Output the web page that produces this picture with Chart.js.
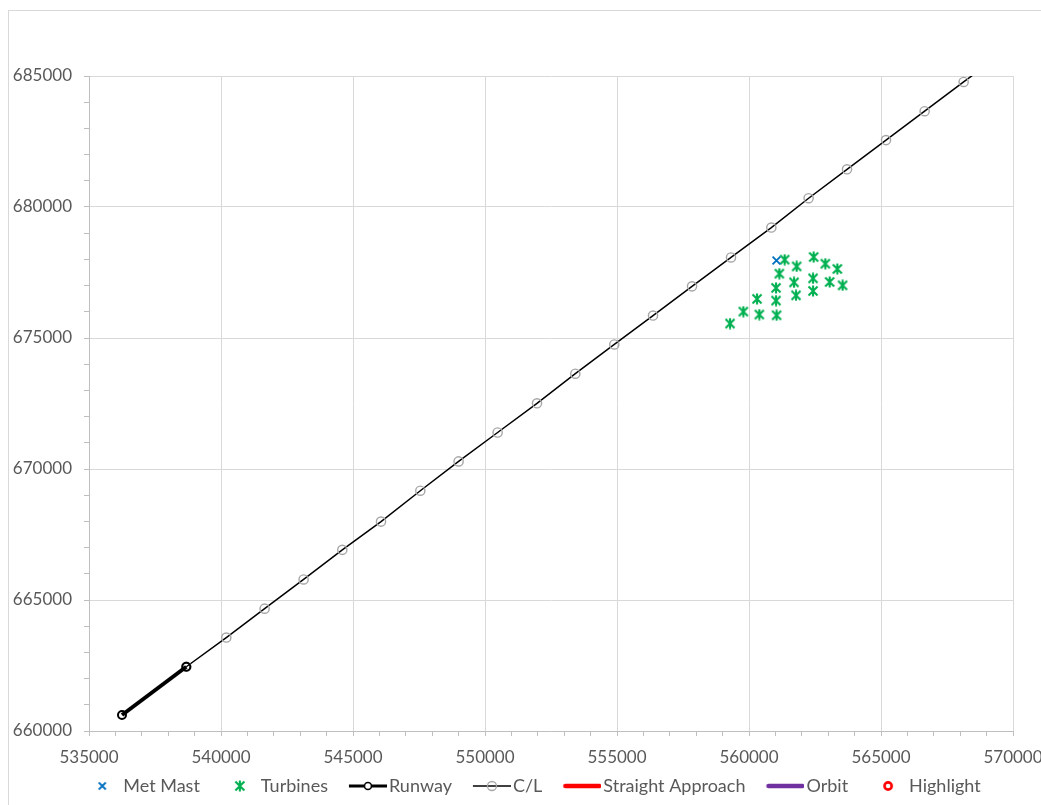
<!DOCTYPE html>
<html><head><meta charset="utf-8">
<script src="https://cdn.jsdelivr.net/npm/chart.js@4.4.1/dist/chart.umd.min.js"></script>
<style>
html,body{margin:0;padding:0;background:#fff;overflow:hidden;width:1041px;height:805px}
#frame{position:absolute;left:8px;top:10px;width:1100px;height:900px;border-top:1px solid #d9d9d9;border-left:1px solid #d9d9d9;box-sizing:border-box}
#c{position:absolute;left:0;top:0}
</style></head><body>
<div id="frame"></div>
<canvas id="c" width="1054" height="805"></canvas>
<script>
// ---- data (easting / northing) ----
const clX = [538686, 540201, 541652, 543129, 544595, 546061, 547550, 549000, 550478, 551970, 553421, 554898, 556364, 557842, 559319, 560846, 562258, 563713, 565190, 566653, 568130, 569600];
const clY = [662452, 663566, 664670, 665785, 666915, 667992, 669171, 670290, 671393, 672508, 673638, 674753, 675857, 676971, 678075, 679216, 680335, 681439, 682553, 683657, 684772, 685880];
const runwayX = [536250, 538686];
const runwayY = [660610, 662452];
const mastX = [561040];
const mastY = [677960];
const turbX = [561350, 561804, 562448, 562891, 563346, 561149, 561705, 562425, 563054, 563546, 561024, 561781, 562425, 560304, 561024, 559785, 560391, 561046, 559281];
const turbY = [677990, 677732, 678090, 677835, 677634, 677455, 677124, 677276, 677139, 677010, 676911, 676629, 676796, 676492, 676427, 676009, 675895, 675868, 675552];
const approachX = [], approachY = [];
const orbitX = [], orbitY = [];
const highlightX = [], highlightY = [];
const seriesNames = ['Met Mast', 'Turbines', 'Runway', 'C/L', 'Straight Approach', 'Orbit', 'Highlight'];
const xMajorTicks = [535000, 540000, 545000, 550000, 555000, 560000, 565000, 570000];
const yMajorTicks = [660000, 665000, 670000, 675000, 680000, 685000];

const pts = (xs, ys) => xs.map((x, i) => ({x, y: ys[i]}));

// ---- marker / legend icons ----
function starMarker(){
  const c = document.createElement('canvas'); c.width = 12; c.height = 12;
  const g = c.getContext('2d');
  g.strokeStyle = '#00b050'; g.lineWidth = 2.1;
  g.beginPath();
  g.moveTo(1.5,1.5); g.lineTo(10.5,10.5);
  g.moveTo(10.5,1.5); g.lineTo(1.5,10.5);
  g.moveTo(6,0.5); g.lineTo(6,11.5);
  g.stroke();
  return c;
}
function icon(draw){
  const c = document.createElement('canvas'); c.width = 58; c.height = 20;
  const g = c.getContext('2d');
  draw(g, 39, 10);
  return c;
}
const turbStar = starMarker();
const icons = [
  icon((g,cx,cy)=>{g.strokeStyle='#0070c0';g.lineWidth=1.8;g.beginPath();g.moveTo(cx-3.5,cy-3.5);g.lineTo(cx+3.5,cy+3.5);g.moveTo(cx+3.5,cy-3.5);g.lineTo(cx-3.5,cy+3.5);g.stroke();}),
  icon((g,cx,cy)=>{g.drawImage(turbStar, cx-6, cy-6);}),
  icon((g,cx,cy)=>{g.strokeStyle='#000';g.lineWidth=3;g.beginPath();g.moveTo(cx-19,cy);g.lineTo(cx+19,cy);g.stroke();
                   g.fillStyle='#fff';g.lineWidth=1.6;g.beginPath();g.arc(cx,cy,3.5,0,Math.PI*2);g.fill();g.stroke();}),
  icon((g,cx,cy)=>{g.strokeStyle='#000';g.lineWidth=1.5;g.beginPath();g.moveTo(cx-19,cy);g.lineTo(cx+19,cy);g.stroke();
                   g.strokeStyle='#a6a6a6';g.lineWidth=1.3;g.beginPath();g.arc(cx,cy,4.5,0,Math.PI*2);g.stroke();}),
  icon((g,cx,cy)=>{g.strokeStyle='#ff0000';g.lineWidth=4.5;g.lineCap='round';g.beginPath();g.moveTo(cx-17,cy);g.lineTo(cx+17,cy);g.stroke();}),
  icon((g,cx,cy)=>{g.strokeStyle='#7030a0';g.lineWidth=4.5;g.lineCap='round';g.beginPath();g.moveTo(cx-17,cy);g.lineTo(cx+17,cy);g.stroke();}),
  icon((g,cx,cy)=>{g.strokeStyle='#ff0000';g.lineWidth=2.6;g.beginPath();g.arc(cx,cy,3.6,0,Math.PI*2);g.stroke();})
];

const tickFont = {family: 'Lato', size: 17};
const legendFont = {family: 'Lato', size: 18};
const textColor = '#595959';

function axis(min, max, majors, isX){
  return {
    type: 'linear', min, max,
    ticks: {
      stepSize: 1000, autoSkip: false, maxRotation: 0, minRotation: 0,
      color: textColor, font: tickFont, padding: isX ? 11 : 12,
      callback: v => majors.includes(v) ? String(v) : ''
    },
    grid: {
      color: ctx => (ctx.tick && majors.includes(ctx.tick.value)) ? '#d9d9d9' : 'rgba(0,0,0,0)',
      lineWidth: 1, tickColor: '#bfbfbf', tickLength: 5, drawTicks: true
    },
    border: {color: '#bfbfbf', width: 1},
    afterFit: s => { if (isX) s.height = 38; else s.width = 79; }
  };
}

// shift the legend row so it sits where the reference legend is
const legendShift = {
  id: 'legendShift',
  afterLayout(chart){ if (chart.legend) { chart.legend.left += 28; } }
};

function draw(){
  new Chart(document.getElementById('c'), {
    type: 'scatter',
    data: {datasets: [
      {label: seriesNames[0], data: pts(mastX, mastY), pointStyle: 'crossRot', pointRadius: 5.5, borderColor: '#0070c0', backgroundColor: '#0070c0', borderWidth: 1.8},
      {label: seriesNames[1], data: pts(turbX, turbY), pointStyle: turbStar, pointRadius: 5},
      {label: seriesNames[2], data: pts(runwayX, runwayY), showLine: true, borderColor: '#000', borderWidth: 4,
       pointRadius: 4, pointBorderWidth: 2, pointBorderColor: '#000', pointBackgroundColor: 'rgba(255,255,255,0)'},
      {label: seriesNames[3], data: pts(clX, clY), showLine: true, borderColor: '#000', borderWidth: 1.5,
       pointRadius: 4.6, pointBorderWidth: 1.4, pointBorderColor: '#a6a6a6', pointBackgroundColor: 'rgba(0,0,0,0)'},
      {label: seriesNames[4], data: pts(approachX, approachY), showLine: true, borderColor: '#ff0000', borderWidth: 4},
      {label: seriesNames[5], data: pts(orbitX, orbitY), showLine: true, borderColor: '#7030a0', borderWidth: 4},
      {label: seriesNames[6], data: pts(highlightX, highlightY), pointRadius: 4, borderColor: '#ff0000', borderWidth: 3, backgroundColor: 'rgba(0,0,0,0)'}
    ]},
    options: {
      responsive: false, animation: false, devicePixelRatio: 1,
      layout: {padding: {left: 10, right: 41, top: 76, bottom: 0}},
      plugins: {
        tooltip: {enabled: false},
        legend: {
          position: 'bottom',
          labels: {
            usePointStyle: true, pointStyleWidth: 44, padding: 8, color: textColor, font: legendFont,
            generateLabels: chart => chart.data.datasets.map((d, i) => ({
              text: d.label, pointStyle: icons[i], fillStyle: 'rgba(0,0,0,0)', strokeStyle: 'rgba(0,0,0,0)',
              lineWidth: 0, hidden: false, datasetIndex: i, fontColor: textColor
            }))
          }
        }
      },
      scales: {
        x: axis(535000, 570000, xMajorTicks, true),
        y: axis(660000, 685000, yMajorTicks, false)
      }
    },
    plugins: [legendShift]
  });
}
if (document.fonts && document.fonts.load) {
  Promise.all([document.fonts.load('17px Lato'), document.fonts.load('18px Lato')]).then(draw, draw);
} else draw();
</script>
</body></html>
